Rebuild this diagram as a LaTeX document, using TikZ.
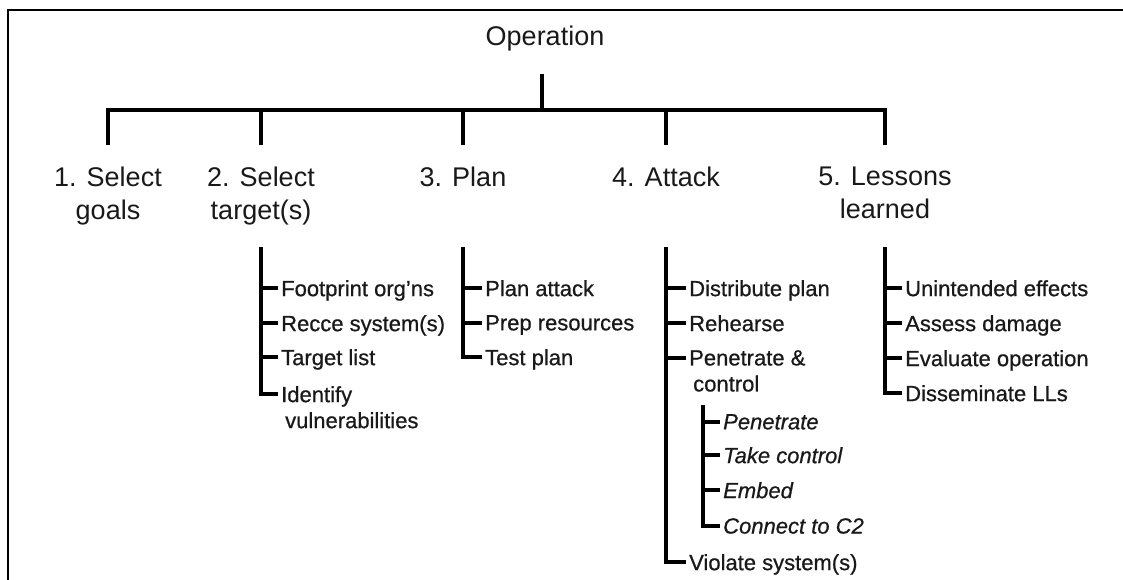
\documentclass[tikz,border=0pt]{standalone}
\usepackage{fontspec}
\setmainfont{Liberation Sans}
\newfontfamily\itemfont[FakeBold=0.7]{Liberation Sans}
\usetikzlibrary{calc}
\begin{document}
\begin{tikzpicture}[x=1pt,y=-1pt,
  toptxt/.style={font=\fontsize{27}{33}\selectfont, inner sep=0pt, align=center, text=black!90},
  item/.style={font=\itemfont\fontsize{22}{26}\selectfont, inner sep=0pt, anchor=north west, align=left, text=black!90},
  subitem/.style={item, font=\itemfont\fontsize{22}{26}\selectfont\itshape},
  barline/.style={line width=3.8pt},
  branch/.style={line width=3.6pt},
  tickline/.style={line width=3.2pt},
  frameline/.style={line width=2.6pt}]
\useasboundingbox (0,0) rectangle (1123,579);
\draw[frameline] (8,590) -- (8,10) -- (1135,10);

% root
\node[toptxt, anchor=base] (op) at (545,45) {Operation};
% level 1
\node[toptxt, anchor=north] (g1) at (108,167) {1. Select\\goals};
\node[toptxt, anchor=north] (g2) at (261,167) {2. Select\\target(s)};
\node[toptxt, anchor=north] (g3) at (463,167) {3. Plan};
\node[toptxt, anchor=north] (g4) at (666,167) {4. Attack};
\node[toptxt, anchor=north] (g5) at (885,167) {5. Lessons\\learned};

\coordinate (optop) at ($(op.base)+(-3,29)$);
\coordinate (bar) at ($(op.base)+(-3,65)$);
\foreach \i in {1,...,5} {
  \coordinate (c\i) at ($(g\i.north)+(0,-22)$);
  \coordinate (b\i) at ($(g\i.north)+(0,80)$);
}
\draw[barline] (optop) -- (bar);
\draw[barline] (c1) -- (c1 |- bar) -- (c5 |- bar) -- (c5);
\draw[barline] (c2) -- (c2 |- bar);
\draw[barline] (c3) -- (c3 |- bar);
\draw[barline] (c4) -- (c4 |- bar);

% select target(s)
\node[item] (t1) at (281,280) {Footprint org’ns};
\node[item] (t2) at (281,315) {Recce system(s)};
\node[item] (t3) at (281,349) {Target list};
\node[item] (t4) at (281,386) {Identify\\\hspace*{4pt}vulnerabilities};
% plan
\node[item] (p1) at (485,280) {Plan attack};
\node[item] (p2) at (485,315) {Prep resources};
\node[item] (p3) at (485,349) {Test plan};
% attack
\node[item] (a1) at (689,280) {Distribute plan};
\node[item] (a2) at (689,315) {Rehearse};
\node[item] (a3) at (689,350) {Penetrate \&\\\hspace*{4pt}control};
\node[item] (a4) at (689,554) {Violate system(s)};
\node[subitem] (s1) at (723,414) {Penetrate};
\node[subitem] (s2) at (723,447) {Take control};
\node[subitem] (s3) at (723,482) {Embed};
\node[subitem] (s4) at (723,518) {Connect to C2};
% lessons
\node[item] (l1) at (905,280) {Unintended effects};
\node[item] (l2) at (905,315) {Assess damage};
\node[item] (l3) at (905,350) {Evaluate operation};
\node[item] (l4) at (905,385) {Disseminate LLs};

% tick end coordinates
\foreach \n in {t1,t2,t3,t4,p1,p2,p3,a1,a2,a3,a4,s1,s2,s3,s4,l1,l2,l3,l4} {
  \coordinate (e\n) at ($(\n.north west)+(-3,8)$);
}
\coordinate (sb) at ($(s1.north west)+(-20,-9)$);

% branches
\draw[branch] (b2) -- (b2 |- et4) -- (et4);
\foreach \n in {t1,t2,t3} \draw[tickline] (b2 |- e\n) -- (e\n);

\draw[branch] (b3) -- (b3 |- ep3) -- (ep3);
\foreach \n in {p1,p2} \draw[tickline] (b3 |- e\n) -- (e\n);

\draw[branch] (b4) -- (b4 |- ea4) -- (ea4);
\foreach \n in {a1,a2,a3} \draw[tickline] (b4 |- e\n) -- (e\n);

\draw[tickline] (sb) -- (sb |- es4) -- (es4);
\foreach \n in {s1,s2,s3} \draw[tickline] (sb |- e\n) -- (e\n);

\draw[branch] (b5) -- (b5 |- el4) -- (el4);
\foreach \n in {l1,l2,l3} \draw[tickline] (b5 |- e\n) -- (e\n);
\end{tikzpicture}
\end{document}
